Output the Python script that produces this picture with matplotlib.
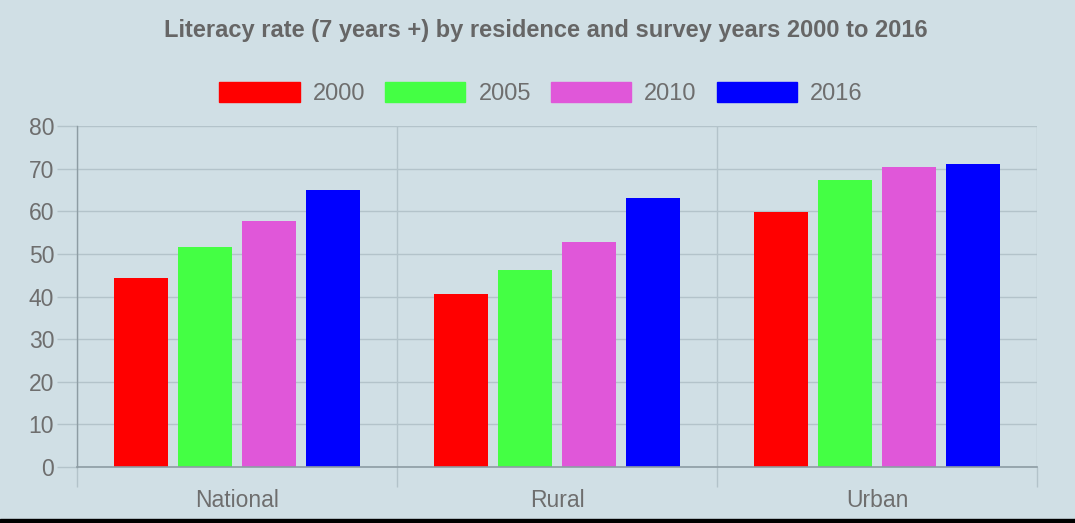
import matplotlib
matplotlib.use("Agg")
import matplotlib.pyplot as plt
from matplotlib.patches import Patch, Rectangle
import numpy as np

categories = ["National", "Rural", "Urban"]
years = ["2000", "2005", "2010", "2016"]
values_2000 = [44.4, 40.6, 59.8]
values_2005 = [51.5, 46.1, 67.3]
values_2010 = [57.6, 52.7, 70.3]
values_2016 = [65.1, 63.1, 71.1]
series = [values_2000, values_2005, values_2010, values_2016]
colors = ["#ff0000", "#44ff44", "#e057d9", "#0000ff"]
yticks = [0, 10, 20, 30, 40, 50, 60, 70, 80]

plt.rcParams['font.family'] = ['Liberation Sans', 'DejaVu Sans']
txt = "#6e6e6e"
grid_c = "#b3c3ca"
axis_c = "#8d9ca3"

W, H = 1075, 523
fig = plt.figure(figsize=(W / 100, H / 100), dpi=100)
fig.patch.set_facecolor("#d0dfe5")

left, right, bottom, top = 77 / W, 1037 / W, 1 - 467 / H, 1 - 126 / H
ax = fig.add_axes([left, bottom, right - left, top - bottom])
ax.set_facecolor("none")

x = np.arange(len(categories))
pitch = 0.2
bw = 0.169
for i, (vals, c) in enumerate(zip(series, colors)):
    ax.bar(x + (i - 1.5) * pitch, vals, width=bw, color=c, zorder=3, label=years[i])

ax.set_xlim(-0.5, 2.5)
ax.set_ylim(0, 80)
ax.set_yticks(yticks)
ax.set_yticklabels([str(v) for v in yticks])
ax.set_xticks(x)
ax.set_xticklabels(categories)
ax.set_xticks([-0.5, 0.5, 1.5, 2.5], minor=True)

for s in ["top", "right"]:
    ax.spines[s].set_visible(False)
ax.spines["left"].set_color(axis_c)
ax.spines["bottom"].set_color(axis_c)
ax.spines["left"].set_linewidth(1.0)
ax.spines["bottom"].set_linewidth(1.2)
ax.spines["left"].set_zorder(4)
ax.spines["bottom"].set_zorder(4)

ax.yaxis.grid(True, color=grid_c, linewidth=1.0, zorder=0)
ax.xaxis.grid(True, which="minor", color=grid_c, linewidth=1.0, zorder=0)
ax.tick_params(axis="y", length=14.4, width=1.0, color=grid_c, pad=2, labelsize=16.5, labelcolor=txt)
ax.tick_params(axis="x", which="major", length=0, pad=15.5, labelsize=16.5, labelcolor=txt)
ax.tick_params(axis="x", which="minor", length=14.4, width=1.0, color=grid_c)

fig.text(546 / W, 1 - 37 / H, "Literacy rate (7 years +) by residence and survey years 2000 to 2016",
         ha="center", va="baseline", fontsize=17, fontweight="bold", color="#666666")

handles = [Patch(facecolor=c, edgecolor=c, label=y) for c, y in zip(colors, years)]
fig.legend(handles=handles, loc="center", bbox_to_anchor=(541 / W, 1 - 93.5 / H), ncol=4,
           frameon=False, fontsize=17, labelcolor=txt, handlelength=3.4, handleheight=0.97,
           handletextpad=0.55, columnspacing=0.85, borderaxespad=0, borderpad=0)

fig.patches.append(Rectangle((0, 0), 1, 4 / H, transform=fig.transFigure, color="black", zorder=10))

fig.savefig("out.png", dpi=100, facecolor=fig.get_facecolor())
